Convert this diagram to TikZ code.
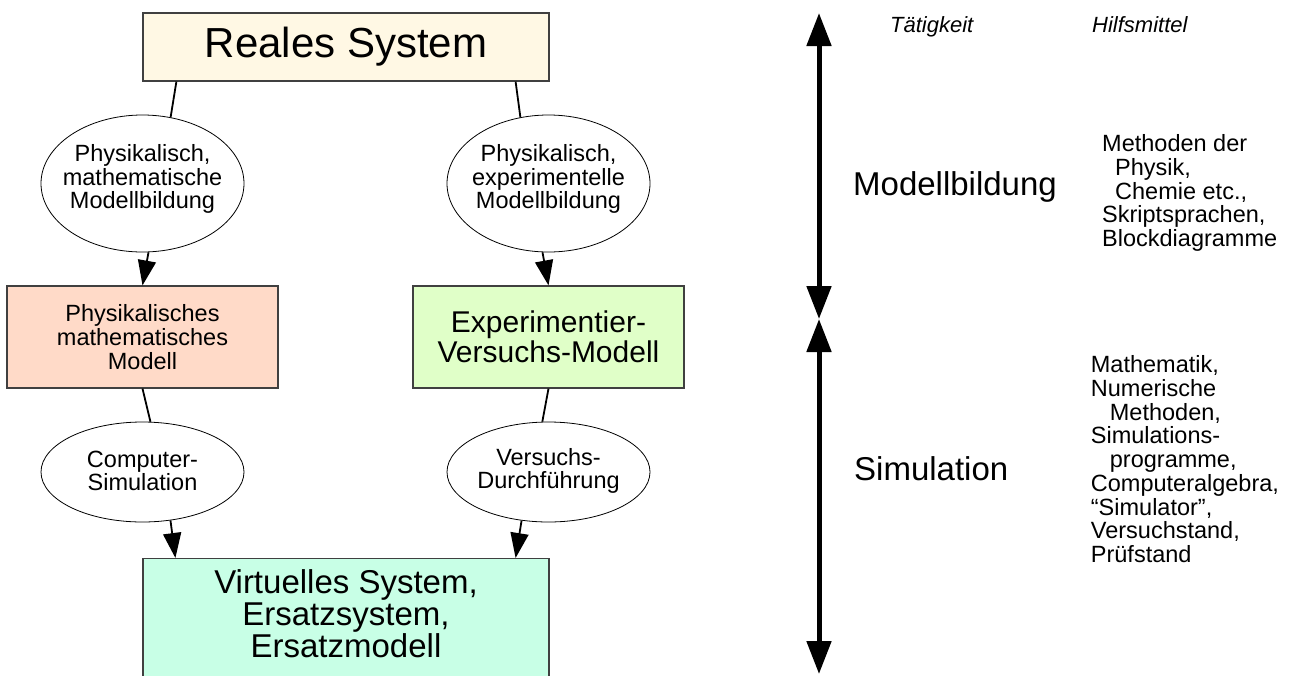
\documentclass[tikz,border=0pt]{standalone}
\usepackage{fontspec}
\setmainfont{Liberation Sans}
\usetikzlibrary{arrows.meta,shapes.geometric,calc}
\definecolor{cream}{RGB}{255,248,228}
\definecolor{peach}{RGB}{255,218,200}
\definecolor{lgreen}{RGB}{224,255,200}
\definecolor{mint}{RGB}{200,255,230}
\newcommand{\myfs}[2]{\fontsize{#1}{#2}\selectfont}
\begin{document}
\begin{tikzpicture}[x=1pt,y=-1pt,
  box/.style={draw=black!75, line width=1.2pt, inner sep=0pt, align=center},
  ell/.style={ellipse, draw=black, line width=0.8pt, fill=white, inner sep=0pt, minimum width=203pt},
  etxt/.style={align=center, inner sep=0pt, font=\myfs{23.5}{23.5}},
  conn/.style={line width=1.8pt},
  arr/.style={line width=1.8pt, -{Triangle[length=25pt,width=18pt]}},
  big/.style={line width=5pt, {Triangle[length=33pt,width=24pt]}-{Triangle[length=33pt,width=24pt]}},
  side/.style={anchor=north west, align=left, inner sep=0pt, font=\myfs{23.5}{23.7}},
  head/.style={anchor=base west, inner sep=0pt, font=\itshape\myfs{22}{26}},
  act/.style={anchor=base west, inner sep=0pt, font=\myfs{33}{36}}
]
\useasboundingbox (0,0) rectangle (1291,675);

% boxes
\node[box, fill=cream, minimum width=406pt, minimum height=68pt, font=\myfs{42}{44}] (top) at (346,47) {Reales System};
\node[box, fill=peach, minimum width=271pt, minimum height=102pt, font=\myfs{23.5}{23.7}] (box1) at (142.5,337) {Physikalisches\\mathematisches\\Modell};
\node[box, fill=lgreen, minimum width=271pt, minimum height=102pt, font=\myfs{30}{30}] (box2) at (548.5,337) {Experimentier-\\Versuchs-Modell};
\node[box, fill=mint, minimum width=406pt, minimum height=125pt, anchor=north,
  label={[align=center, inner sep=0pt, font=\myfs{33}{32}, yshift=7.5pt]center:{Virtuelles System,\\Ersatzsystem,\\Ersatzmodell}}] (bot) at (346,558) {};

% ellipses
\node[ell, minimum height=137pt, label={[etxt, yshift=4.5pt]center:{Physikalisch,\\mathematische\\Modellbildung}}] (e1) at (142.5,183.5) {};
\node[ell, minimum height=137pt, label={[etxt, yshift=4.5pt]center:{Physikalisch,\\experimentelle\\Modellbildung}}] (e2) at (548.5,183.5) {};
\node[ell, minimum height=100pt, label={[etxt, yshift=1pt]center:{Computer-\\Simulation}}] (e3) at (142.5,472) {};
\node[ell, minimum height=100pt, label={[etxt, yshift=1pt]center:{Versuchs-\\Durchführung}}] (e4) at (548.5,472) {};

% connectors
\draw[conn] ($(top.south west)+(34,0)$) -- (e1.67);
\draw[conn] ($(top.south east)+(-34,0)$) -- (e2.113);
\draw[arr] (e1.275) -- (box1.north);
\draw[arr] (e2.265) -- (box2.north);
\draw[conn] (box1.south) -- (e3.81);
\draw[conn] (box2.south) -- (e4.97);
\draw[arr] (e3.300) -- ($(bot.north west)+(33,0)$);
\draw[arr] (e4.241) -- ($(bot.north east)+(-34,0)$);

% right side
\coordinate (v1) at (819,13);
\coordinate (v2) at (819,319);
\coordinate (v3) at (819,674);
\draw[big] (v1) -- (v2);
\draw[big] (v2) -- (v3);

\node[head] (t1) at (890,32) {Tätigkeit};
\node[head] (t2) at (1092,32) {Hilfsmittel};
\node[act] (mb) at (853,195) {Modellbildung};
\node[act] (sim) at (854,480) {Simulation};
\node[side] (hm1) at (1102,134.6) {Methoden der\\\hspace*{13pt}Physik,\\\hspace*{13pt}Chemie etc.,\\Skriptsprachen,\\Blockdiagramme};
\node[side] (hm2) at (1090.7,355.6) {Mathematik,\\Numerische\\\hspace*{19pt}Methoden,\\Simulations-\\\hspace*{19pt}programme,\\Computeralgebra,\\“Simulator”,\\Versuchstand,\\Prüfstand};
\end{tikzpicture}
\end{document}
